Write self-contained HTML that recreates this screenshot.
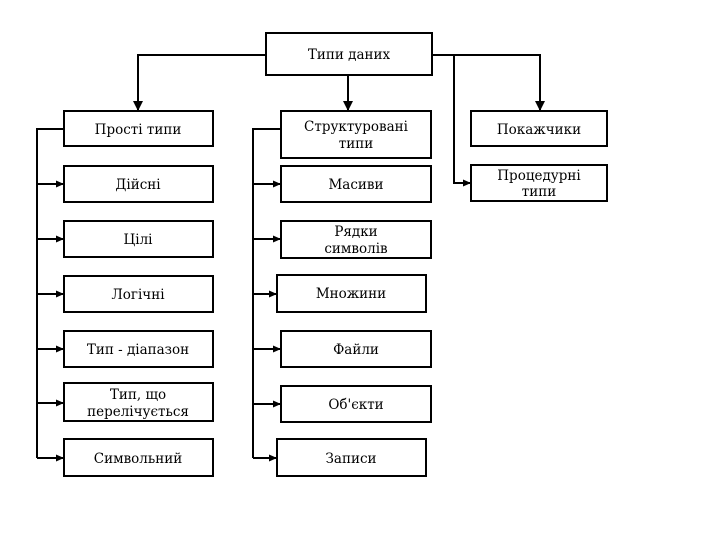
<!DOCTYPE html>
<html><head><meta charset="utf-8"><style>
html,body{margin:0;padding:0;background:#fff;}
svg{display:block}
text{font-family:"DejaVu Serif","Liberation Serif",serif;font-size:13.5px;fill:#000;text-anchor:middle}
</style></head><body>
<svg width="720" height="540" viewBox="0 0 720 540">
<defs><marker id="a" markerWidth="8" markerHeight="8" refX="7" refY="4" orient="auto" markerUnits="userSpaceOnUse"><path d="M0,0.5 L8,4 L0,7.5 Z" fill="#000"/></marker>
<marker id="b" markerWidth="10" markerHeight="10" refX="9" refY="5" orient="auto" markerUnits="userSpaceOnUse"><path d="M0,0 L10,5 L0,10 Z" fill="#000"/></marker></defs>
<g fill="none" stroke="#000" stroke-width="2">
<path d="M266,55 H138 V110" marker-end="url(#b)"/>
<path d="M348,75 V110" marker-end="url(#b)"/>
<path d="M432,55 H540 V110" marker-end="url(#b)"/>
<path d="M454,55 V183 H470" marker-end="url(#a)"/>
<path d="M64,129 H37 V458"/>
<path d="M37,184 H63" marker-end="url(#a)"/>
<path d="M37,239 H63" marker-end="url(#a)"/>
<path d="M37,294 H63" marker-end="url(#a)"/>
<path d="M37,349 H63" marker-end="url(#a)"/>
<path d="M37,403 H63" marker-end="url(#a)"/>
<path d="M37,458 H63" marker-end="url(#a)"/>
<path d="M281,129 H253 V458"/>
<path d="M253,184 H280" marker-end="url(#a)"/>
<path d="M253,239 H280" marker-end="url(#a)"/>
<path d="M253,294 H276" marker-end="url(#a)"/>
<path d="M253,349 H280" marker-end="url(#a)"/>
<path d="M253,404 H280" marker-end="url(#a)"/>
<path d="M253,458 H276" marker-end="url(#a)"/>
<rect x="266" y="33" width="166" height="42"/>
<rect x="64" y="111" width="149" height="35"/>
<rect x="64" y="166" width="149" height="36"/>
<rect x="64" y="221" width="149" height="36"/>
<rect x="64" y="276" width="149" height="36"/>
<rect x="64" y="331" width="149" height="36"/>
<rect x="64" y="383" width="149" height="38"/>
<rect x="64" y="439" width="149" height="37"/>
<rect x="281" y="111" width="150" height="47"/>
<rect x="281" y="166" width="150" height="36"/>
<rect x="281" y="221" width="150" height="37"/>
<rect x="277" y="275" width="149" height="37"/>
<rect x="281" y="331" width="150" height="36"/>
<rect x="281" y="386" width="150" height="36"/>
<rect x="277" y="439" width="149" height="37"/>
<rect x="471" y="111" width="136" height="35"/>
<rect x="471" y="165" width="136" height="36"/>
</g>
<text x="349" y="59">Типи даних</text>
<text x="138" y="134">Прості типи</text>
<text x="138" y="189">Дійсні</text>
<text x="138" y="244">Цілі</text>
<text x="138" y="299">Логічні</text>
<text x="138" y="354">Тип - діапазон</text>
<text x="138" y="399">Тип, що</text>
<text x="138" y="416">перелічується</text>
<text x="138" y="463">Символьний</text>
<text x="356" y="131">Структуровані</text>
<text x="356" y="148">типи</text>
<text x="356" y="189">Масиви</text>
<text x="356" y="236">Рядки</text>
<text x="356" y="253">символів</text>
<text x="351" y="298">Множини</text>
<text x="356" y="354">Файли</text>
<text x="356" y="409">Об'єкти</text>
<text x="351" y="463">Записи</text>
<text x="539" y="134">Покажчики</text>
<text x="539" y="180">Процедурні</text>
<text x="539" y="196">типи</text>
</svg>
</body></html>
